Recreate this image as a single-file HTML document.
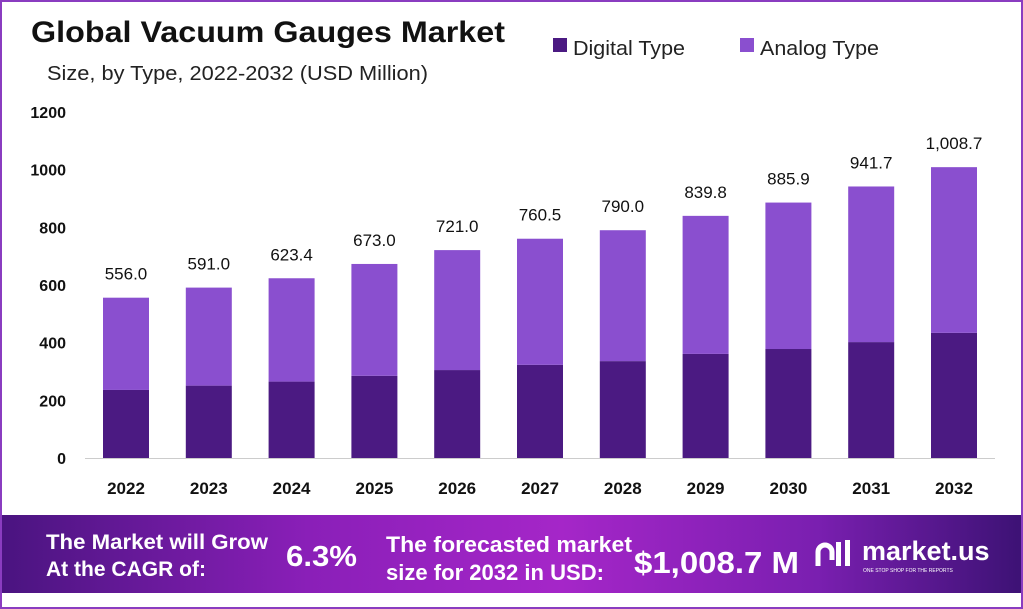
<!DOCTYPE html>
<html><head><meta charset="utf-8"><style>
body{margin:0;background:#fff;}
svg{display:block;font-family:"Liberation Sans",sans-serif;}
</style></head><body>
<svg width="1023" height="609" viewBox="0 0 1023 609">
<defs>
<linearGradient id="bg" x1="0" x2="1" y1="0" y2="0">
<stop offset="0" stop-color="#4a1480"/><stop offset="0.3" stop-color="#8a1fb8"/><stop offset="0.55" stop-color="#a526c8"/><stop offset="0.8" stop-color="#7a1fb0"/><stop offset="1" stop-color="#3d1275"/>
</linearGradient>
</defs>
<rect x="1" y="1" width="1021" height="607" fill="#fff" stroke="#8a3cc0" stroke-width="2"/>
<text x="31" y="42" font-size="30" font-weight="bold" fill="#111" textLength="474" lengthAdjust="spacingAndGlyphs">Global Vacuum Gauges Market</text>
<text x="47" y="80" font-size="20" fill="#222" textLength="381" lengthAdjust="spacingAndGlyphs">Size, by Type, 2022-2032 (USD Million)</text>
<rect x="553" y="38" width="14" height="14" fill="#4b1a82"/>
<text x="573" y="55" font-size="20" fill="#222" textLength="112" lengthAdjust="spacingAndGlyphs">Digital Type</text>
<rect x="740" y="38" width="14" height="14" fill="#8a4fcf"/>
<text x="760" y="55" font-size="20" fill="#222" textLength="119" lengthAdjust="spacingAndGlyphs">Analog Type</text>
<g id="plot"></g>
<rect x="2" y="515" width="1019" height="78" fill="url(#bg)"/>
<g fill="#fff" font-weight="bold">
<text x="46" y="549" font-size="21" textLength="222" lengthAdjust="spacingAndGlyphs">The Market will Grow</text>
<text x="46" y="576" font-size="21" textLength="160" lengthAdjust="spacingAndGlyphs">At the CAGR of:</text>
<text x="286" y="566" font-size="29" textLength="71" lengthAdjust="spacingAndGlyphs">6.3%</text>
<text x="386" y="552" font-size="22" textLength="246" lengthAdjust="spacingAndGlyphs">The forecasted market</text>
<text x="386" y="580" font-size="22" textLength="218" lengthAdjust="spacingAndGlyphs">size for 2032 in USD:</text>
<text x="634" y="573" font-size="31" textLength="165" lengthAdjust="spacingAndGlyphs">$1,008.7 M</text>
<g>
<path d="M818 566 v-14 a7 7 0 0 1 14 0 v8" stroke="#fff" stroke-width="5" fill="none"/>
<rect x="836" y="542" width="5" height="24"/><rect x="845" y="540" width="5" height="26"/>
</g>
<text x="862" y="560" font-size="27">market.us</text>
<text x="863" y="572" font-size="5" font-weight="normal">ONE STOP SHOP FOR THE REPORTS</text>
</g>
</svg>
<script>
const categories=["2022","2023","2024","2025","2026","2027","2028","2029","2030","2031","2032"];
const digital=[236,251,265,285,305,323,336,361,378,402,434];
const totals=[556.0,591.0,623.4,673.0,721.0,760.5,790.0,839.8,885.9,941.7,1008.7];
const totalLabels=["556.0","591.0","623.4","673.0","721.0","760.5","790.0","839.8","885.9","941.7","1,008.7"];
const yTicks=[0,200,400,600,800,1000,1200];
const NS="http://www.w3.org/2000/svg";
const g=document.getElementById('plot');
const y0=458,yTop=112,yMax=1200;
const y=v=>y0-(v/yMax)*(y0-yTop);
const x0=126,step=82.8,bw=46;
const x=i=>x0+i*step;
function mk(t,a){const e=document.createElementNS(NS,t);for(const k in a)e.setAttribute(k,a[k]);g.appendChild(e);return e;}
yTicks.forEach(t=>{
 const e=mk('text',{x:66,y:y(t)+6,'font-size':16,'font-weight':'bold','text-anchor':'end',fill:'#111'});
 e.textContent=t;
 
 
});
const ax=mk('line',{x1:85,x2:995,y1:y0+0.5,y2:y0+0.5,stroke:'#ccc','stroke-width':1});


categories.forEach((c,i)=>{
 const cx=x(i);
 const d=mk('rect',{x:cx-bw/2,y:y(digital[i]),width:bw,height:y0-y(digital[i]),fill:'#4b1a82'});
 
 
 const a=mk('rect',{x:cx-bw/2,y:y(totals[i]),width:bw,height:y(digital[i])-y(totals[i]),fill:'#8a4fcf'});
 
 
 const l=mk('text',{x:cx,y:y(totals[i])-18,'font-size':17,'text-anchor':'middle',fill:'#111'});
 l.textContent=totalLabels[i];
 
 
 const xl=mk('text',{x:cx,y:494,'font-size':17,'font-weight':'bold','text-anchor':'middle',fill:'#111'});
 xl.textContent=c;
 
 
});
</script>
</body></html>
